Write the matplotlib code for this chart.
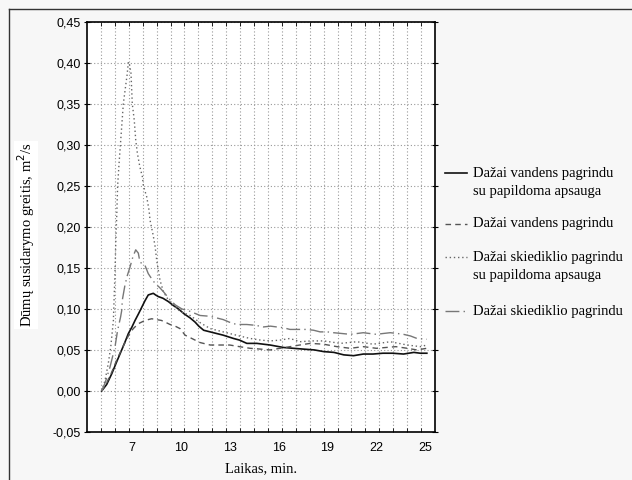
import numpy as np
import matplotlib
matplotlib.use("Agg")
import matplotlib.pyplot as plt
from matplotlib.lines import Line2D
from matplotlib.ticker import FixedLocator, FuncFormatter

# laikas (min.) ir dumu susidarymo greitis (m2/s), nuskaityta nuo grafiko
t_vand_aps = [5.14, 5.45, 5.76, 6.05, 6.37, 6.6, 6.78, 7.0, 7.19, 7.4, 7.6, 7.8, 8.0, 8.15, 8.31,
              8.45, 8.62, 8.9, 9.23, 9.55, 9.85, 10.2, 10.57, 10.87, 11.1, 11.4, 11.8, 12.2, 12.6,
              13.23, 13.6, 14.05, 14.66, 15.48, 16.3, 16.9, 17.53, 18.2, 18.76, 19.4, 20.0, 20.6,
              21.2, 21.8, 22.4, 23.0, 23.67, 24.3, 24.7, 25.1]
y_vand_aps = [0.0, 0.008, 0.021, 0.035, 0.05, 0.061, 0.070, 0.078, 0.086, 0.094, 0.102, 0.110,
              0.117, 0.118, 0.119, 0.117, 0.115, 0.113, 0.109, 0.104, 0.100, 0.094, 0.089, 0.084,
              0.079, 0.074, 0.072, 0.070, 0.068, 0.064, 0.062, 0.058, 0.058, 0.056, 0.053, 0.052,
              0.051, 0.050, 0.048, 0.047, 0.044, 0.043, 0.045, 0.045, 0.046, 0.046, 0.045, 0.047,
              0.046, 0.046]

t_vand = [5.14, 5.45, 5.76, 6.05, 6.37, 6.6, 6.8, 7.08, 7.39, 7.6, 7.8, 8.0, 8.21, 8.5, 8.8, 9.03,
          9.34, 9.65, 9.95, 10.26, 10.67, 11.18, 11.8, 12.4, 13.0, 13.6, 14.25, 14.9, 15.48, 16.1,
          16.7, 17.3, 17.94, 18.76, 19.58, 20.4, 21.2, 22.0, 22.6, 23.2, 23.9, 24.49, 25.1]
y_vand = [0.0, 0.010, 0.023, 0.037, 0.051, 0.060, 0.068, 0.076, 0.082, 0.084, 0.086, 0.087, 0.088,
          0.087, 0.086, 0.084, 0.081, 0.079, 0.076, 0.068, 0.064, 0.059, 0.056, 0.056, 0.056,
          0.054, 0.052, 0.051, 0.050, 0.052, 0.054, 0.056, 0.058, 0.057, 0.054, 0.052, 0.054,
          0.052, 0.053, 0.054, 0.052, 0.050, 0.052]

t_skied_aps = [5.14, 5.35, 5.55, 5.7, 5.86, 5.95, 6.02, 6.06, 6.12, 6.2, 6.29, 6.38, 6.47, 6.6,
               6.7, 6.78, 6.86, 6.94, 7.02, 7.14, 7.23, 7.33, 7.48, 7.64, 7.7, 7.9, 8.05, 8.11,
               8.3, 8.42, 8.52, 8.72, 8.93, 9.23, 9.65, 9.95, 10.57, 11.2, 11.8, 12.6, 13.0, 13.6,
               14.25, 14.9, 15.48, 16.1, 16.7, 17.3, 18.0, 18.76, 19.8, 20.8, 21.8, 22.85, 23.9,
               24.7, 25.1]
y_skied_aps = [0.0, 0.013, 0.034, 0.054, 0.086, 0.14, 0.19, 0.21, 0.25, 0.275, 0.30, 0.325, 0.35,
               0.37, 0.385, 0.401, 0.397, 0.387, 0.35, 0.33, 0.306, 0.29, 0.2735, 0.261, 0.25,
               0.237, 0.22, 0.208, 0.19, 0.176, 0.159, 0.135, 0.121, 0.111, 0.103, 0.097, 0.092,
               0.083, 0.076, 0.072, 0.070, 0.067, 0.064, 0.062, 0.061, 0.062, 0.064, 0.060, 0.061,
               0.061, 0.058, 0.060, 0.057, 0.060, 0.056, 0.054, 0.056]

t_skied = [5.14, 5.35, 5.65, 5.96, 6.12, 6.3, 6.37, 6.41, 6.57, 6.72, 6.88, 7.05, 7.23, 7.39, 7.49,
           7.65, 7.8, 8.0, 8.2, 8.42, 8.7, 8.93, 9.3, 9.65, 10.06, 10.57, 11.18, 11.8, 12.0, 12.6,
           13.2, 13.6, 14.05, 14.6, 15.07, 15.5, 15.9, 16.3, 16.7, 17.2, 17.7, 18.15, 18.55, 19.0,
           19.37, 19.9, 20.4, 20.8, 21.2, 21.6, 22.0, 22.4, 22.85, 23.3, 23.67, 24.1, 24.49, 25.1]
y_skied = [0.0, 0.0098, 0.029, 0.054, 0.074, 0.09, 0.098, 0.111, 0.129, 0.141, 0.151, 0.163,
           0.172, 0.168, 0.157, 0.155, 0.153, 0.143, 0.137, 0.131, 0.126, 0.121, 0.112, 0.105,
           0.100, 0.097, 0.092, 0.091, 0.090, 0.087, 0.082, 0.081, 0.081, 0.080, 0.078, 0.079,
           0.078, 0.077, 0.075, 0.075, 0.075, 0.074, 0.072, 0.072, 0.071, 0.070, 0.069, 0.070,
           0.071, 0.070, 0.069, 0.070, 0.071, 0.070, 0.069, 0.067, 0.064, 0.063]

labels = ["Dažai vandens pagrindu\nsu papildoma apsauga",
          "Dažai vandens pagrindu",
          "Dažai skiediklio pagrindu\nsu papildoma apsauga",
          "Dažai skiediklio pagrindu"]
x_ticks = [7, 10, 13, 16, 19, 22, 25]
y_ticks = [-0.05, 0.0, 0.05, 0.10, 0.15, 0.20, 0.25, 0.30, 0.35, 0.40, 0.45]

xmin, xmax = 4.24, 25.6
W, H = 632, 480

plt.rcParams['font.family'] = ['Liberation Sans', 'DejaVu Sans']
serif = ['Liberation Serif', 'DejaVu Serif']

styles = [dict(color='#111111', lw=1.2, ls='-'),
          dict(color='#555555', lw=1.0, ls=(0, (4, 3))),
          dict(color='#666666', lw=1.0, ls=(0, (1, 2))),
          dict(color='#777777', lw=1.0, ls=(0, (10, 3, 1, 3)))]

fig = plt.figure(figsize=(6.32, 4.8), dpi=100, facecolor='#f7f7f7')
ax = fig.add_axes([87/W, 1 - 432/H, (435-87)/W, (432-21.7)/H])
ax.set_facecolor('white')

series = [(t_vand_aps, y_vand_aps), (t_vand, y_vand), (t_skied_aps, y_skied_aps), (t_skied, y_skied)]
for (t, y), st in zip(series, styles):
    ax.plot(t, y, **st)

ax.set_xlim(xmin, xmax)
ax.set_ylim(-0.05, 0.45)

# vertikalus tinklelis kas 1/25 asies plocio
vgrid = [xmin + k*(xmax - xmin)/25 for k in range(1, 25)]
ax.xaxis.set_major_locator(FixedLocator(x_ticks))
ax.xaxis.set_minor_locator(FixedLocator(vgrid))
ax.set_yticks(y_ticks)
ax.yaxis.set_major_formatter(FuncFormatter(lambda v, p: f"{v:.2f}".replace('.', ',').replace('-0,00', '0,00')))

ax.tick_params(axis='x', which='major', length=0, pad=7, labelsize=9)
ax.tick_params(axis='x', which='minor', direction='in', length=3, top=True, bottom=True)
ax.tick_params(axis='y', which='major', direction='inout', length=5, right=True, labelsize=9, pad=2)
ax.grid(True, which='minor', axis='x', color='#999999', ls=(0, (1, 2)), lw=0.8)
ax.grid(True, which='major', axis='y', color='#999999', ls=(0, (1, 2)), lw=0.8)
for s in ax.spines.values():
    s.set_linewidth(1.2)

ax.set_xlabel("Laikas, min.", family=serif, fontsize=10.5, labelpad=6)
fig.text(26/W, 1 - 235/H, "Dūmų susidarymo greitis, m$^2$/s", family=serif, fontsize=10.5,
         rotation=90, ha='center', va='center',
         bbox=dict(facecolor='white', edgecolor='none', pad=1))

# legenda: pavyzdine linija ties pirma teksto eilute
leg_rows = [(173, 192), (224,), (257, 276), (311,)]
for st, lab, rows in zip(styles, labels, leg_rows):
    y0 = 1 - rows[0]/H
    fig.add_artist(Line2D([445/W, 467/W], [y0, y0], **st))
    for txt, r in zip(lab.split('\n'), rows):
        fig.text(473/W, 1 - r/H, txt, family=serif, fontsize=10.5, ha='left', va='center')

# remelis aplink paveiksla
fig.add_artist(Line2D([9/W, 9/W], [0, 1 - 9/H], color='#333333', lw=1))
fig.add_artist(Line2D([9/W, 1], [1 - 9/H, 1 - 9/H], color='#333333', lw=1))

fig.savefig('out.png', dpi=100, facecolor=fig.get_facecolor())
